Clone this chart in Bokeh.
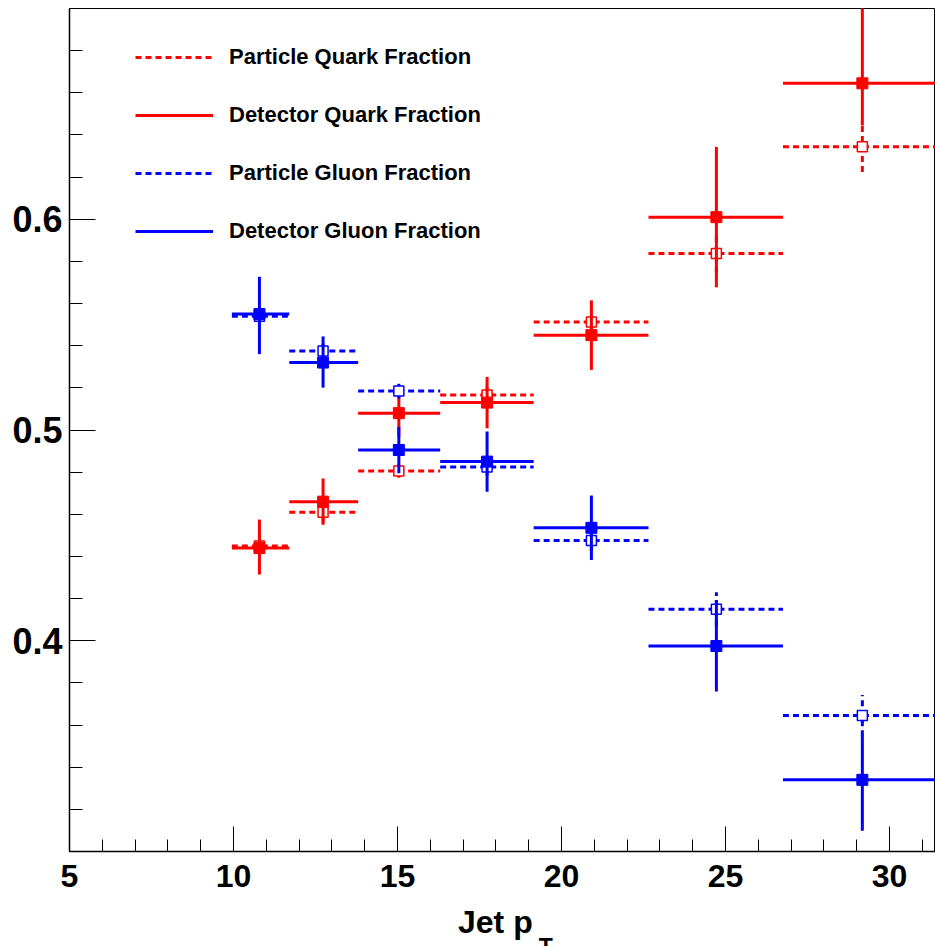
from bokeh.plotting import figure
from bokeh.models import FixedTicker, Legend, LegendItem, Range1d, ColumnDataSource, Div
from bokeh.layouts import column
from bokeh.embed import file_html
from bokeh.resources import INLINE

# ---- data ----
bin_lo = [9.95, 11.7, 13.8, 16.3, 19.15, 22.65, 26.75]
bin_hi = [11.7, 13.8, 16.3, 19.15, 22.65, 26.75, 31.5]
pt_mean = [10.79, 12.73, 15.04, 17.73, 20.91, 24.72, 29.17]

part_quark = [0.445, 0.461, 0.4805, 0.5166, 0.5513, 0.5837, 0.6344]
part_quark_err = [0.003, 0.005, 0.0032, 0.004, 0.005, 0.009, 0.012]
det_quark = [0.444, 0.466, 0.508, 0.513, 0.545, 0.601, 0.6645]
det_quark_err_lo = [0.0126, 0.011, 0.0112, 0.0122, 0.0165, 0.0333, 0.020]
det_quark_err_hi = [0.0135, 0.011, 0.0112, 0.0122, 0.0165, 0.0333, 0.045]
part_gluon = [0.554, 0.5375, 0.5185, 0.4824, 0.4476, 0.415, 0.3645]
part_gluon_err = [0.003, 0.004, 0.0035, 0.004, 0.005, 0.008, 0.0098]
det_gluon = [0.555, 0.532, 0.4905, 0.485, 0.4536, 0.3975, 0.334]
det_gluon_err_lo = [0.019, 0.0119, 0.011, 0.0143, 0.0153, 0.0216, 0.0242]
det_gluon_err_hi = [0.0177, 0.0124, 0.011, 0.0143, 0.0153, 0.0216, 0.021]

x_major = [5, 10, 15, 20, 25, 30]
x_minor = [6, 7, 8, 9, 11, 12, 13, 14, 16, 17, 18, 19, 21, 22, 23, 24, 26, 27, 28, 29, 31]
y_major = [0.4, 0.5, 0.6]
y_minor = [0.32, 0.34, 0.36, 0.38, 0.42, 0.44, 0.46, 0.48, 0.52, 0.54, 0.56, 0.58,
           0.62, 0.64, 0.66, 0.68]

series_labels = ["Particle Quark Fraction", "Detector Quark Fraction",
                 "Particle Gluon Fraction", "Detector Gluon Fraction"]
x_title = "Jet p"
x_title_sub = "T"

RED = "#ff0000"
BLUE = "#0000ff"
FONT = "Liberation Sans"
DASH = "6 4"

p = figure(width=935, height=905, x_range=Range1d(5, 31.4), y_range=Range1d(0.3, 0.7),
           output_backend="svg", toolbar_location=None,
           min_border_left=69, min_border_right=0, min_border_top=8, min_border_bottom=54)
p.title.visible = False
p.grid.visible = False
p.outline_line_color = "black"
p.outline_line_width = 1
p.background_fill_color = "white"
p.border_fill_color = "white"

for ax in (p.xaxis, p.yaxis):
    ax.axis_line_color = "black"
    ax.axis_line_width = 1.5
    ax.major_tick_line_color = "black"
    ax.minor_tick_line_color = "black"
    ax.major_tick_out = 0
    ax.minor_tick_out = 0
    ax.major_label_text_font = FONT
    ax.major_label_text_font_style = "bold"
    ax.major_label_text_color = "black"

p.xaxis.ticker = FixedTicker(ticks=x_major, minor_ticks=x_minor)
p.yaxis.ticker = FixedTicker(ticks=y_major, minor_ticks=y_minor)
p.xaxis.major_tick_in = 25
p.xaxis.minor_tick_in = 12
p.yaxis.major_tick_in = 26
p.yaxis.minor_tick_in = 13
p.xaxis.major_label_text_font_size = "32px"
p.yaxis.major_label_text_font_size = "36px"
p.xaxis.major_label_standoff = 13
p.yaxis.major_label_standoff = 7


def series(y, lo, hi, color, dashed, filled):
    src = ColumnDataSource(dict(
        x=pt_mean, y=y, xl=bin_lo, xh=bin_hi,
        yl=[a - b for a, b in zip(y, lo)], yh=[a + b for a, b in zip(y, hi)]))
    dash = DASH if dashed else "solid"
    rh = p.segment(x0="xl", x1="xh", y0="y", y1="y", source=src,
                   line_color=color, line_width=3, line_dash=dash)
    p.segment(x0="x", x1="x", y0="yl", y1="yh", source=src,
              line_color=color, line_width=3, line_dash=dash)
    if filled:
        p.scatter(x="x", y="y", source=src, marker="square", size=11,
                  fill_color=color, line_color=color)
    else:
        p.scatter(x="x", y="y", source=src, marker="square", size=10,
                  fill_color="white", line_color=color, line_width=1.5)
    return rh


r_pq = series(part_quark, part_quark_err, part_quark_err, RED, True, False)
r_dq = series(det_quark, det_quark_err_lo, det_quark_err_hi, RED, False, True)
r_pg = series(part_gluon, part_gluon_err, part_gluon_err, BLUE, True, False)
r_dg = series(det_gluon, det_gluon_err_lo, det_gluon_err_hi, BLUE, False, True)

legend = Legend(
    items=[LegendItem(label=lab, renderers=[r])
           for lab, r in zip(series_labels, [r_pq, r_dq, r_pg, r_dg])],
    location=(66, 607), padding=0, margin=0, spacing=32,
    glyph_width=78, glyph_height=26, label_height=26, label_standoff=16,
    label_text_font=FONT, label_text_font_style="bold", label_text_font_size="22px",
    label_text_color="black", border_line_color=None, background_fill_alpha=0)
p.add_layout(legend)

title_div = Div(
    text=(f'<div style="margin-left:453px; margin-top:-4px; text-align:left; '
          f'font-family:\'{FONT}\'; font-weight:bold; font-size:32px; line-height:32px; '
          f'color:black; white-space:nowrap;">{x_title}'
          f'<span style="font-size:23px; position:relative; top:22px; margin-left:6px;">'
          f'{x_title_sub}</span></div>'),
    width=935, height=41)

layout = column(p, title_div, spacing=0)
open("out.html", "w").write(file_html(layout, INLINE))
